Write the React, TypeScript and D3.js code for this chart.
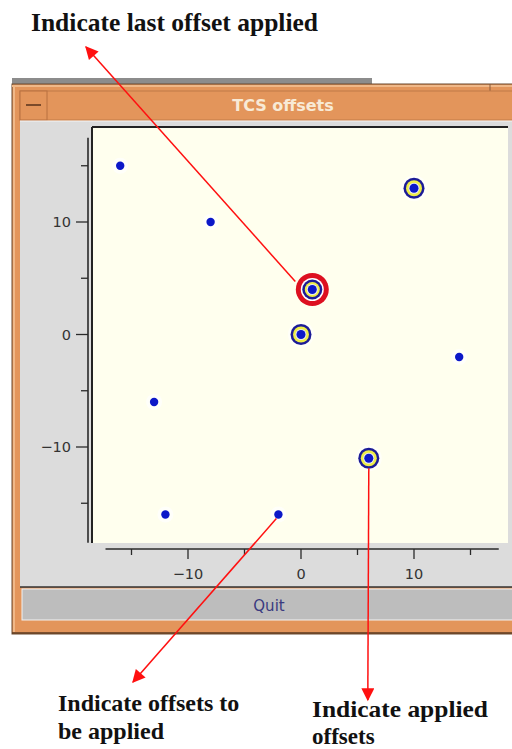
import * as d3 from "d3";

// offsets waiting to be applied
const pendingX = [-16, -8, 14, -13, -12, -2];
const pendingY = [15, 10, -2, -6, -16, -16];
// offsets already applied
const appliedX = [10, 0, 6];
const appliedY = [13, 0, -11];
// last offset applied
const lastX = [1];
const lastY = [4];

const majorTicks = [-10, 0, 10];
const minorTicks = [-15, -5, 5, 15];

const orange = "#e3955b";
const orangeLight = "#f0b888";
const panel = "#dcdcdc";
const dotBlue = "#0c18c8";
const navy = "#1c1c96";
const yellow = "#eeee48";
const red = "#ff1010";

export default function App() {
  const width = 512;
  const height = 749;

  const x = d3.scaleLinear().domain([-10, 10]).range([188, 414]);
  const y = d3.scaleLinear().domain([-10, 10]).range([447, 222]);

  const pending = pendingX.map((d, i) => [d, pendingY[i]]);
  const applied = appliedX.map((d, i) => [d, appliedY[i]]);
  const last = lastX.map((d, i) => [d, lastY[i]]);

  const axisColor = "#2a2a2a";
  const tickFont = "'DejaVu Sans', sans-serif";
  const noteFont = "'Liberation Serif', 'Times New Roman', serif";

  // arrow geometry: start near a data point, point to a label
  const lp = last[0];
  const topStart = [x(lp[0]) - 17, y(lp[1]) - 8];
  const pp = pending[5];
  const leftStart = [x(pp[0]) - 2, y(pp[1]) + 4];
  const ap = applied[2];
  const rightStart = [x(ap[0]), y(ap[1]) + 10];

  return (
    <svg width={width} height={height} style={{ position: "absolute", left: 0, top: 0, background: "#fff" }}>
      <defs>
        <marker id="headBig" viewBox="0 0 10 10" refX="9" refY="5" markerWidth="15" markerHeight="13" markerUnits="userSpaceOnUse" orient="auto">
          <path d="M0,0 L10,5 L0,10 z" fill={red} />
        </marker>
      </defs>

      {/* window frame */}
      <rect x={12} y={78} width={360} height={6} fill="#8c8c8c" />
      <rect x={12} y={84} width={510} height={550} fill={orange} stroke="#6a4a30" strokeWidth={1} />
      <line x1={12} y1={86} x2={512} y2={86} stroke={orangeLight} strokeWidth={2} />
      <line x1={14} y1={86} x2={14} y2={632} stroke={orangeLight} strokeWidth={2} />
      <line x1={490} y1={84} x2={490} y2={91} stroke="#8a5a3a" strokeWidth={1} />
      <rect x={20} y={91} width={500} height={29} fill={orange} stroke="#c07a48" strokeWidth={1} />
      <rect x={20} y={91} width={27} height={29} fill={orange} stroke="#b87040" strokeWidth={1} />
      <line x1={26} y1={105} x2={41} y2={105} stroke="#7a4a2a" strokeWidth={2} />
      <text x={283} y={111} textAnchor="middle" fill="#f8ead6" fontFamily={tickFont} fontWeight="bold" fontSize={16}>TCS offsets</text>

      {/* panel */}
      <rect x={20} y={121} width={500} height={466} fill={panel} />
      <line x1={20} y1={121} x2={520} y2={121} stroke="#f4f4f4" strokeWidth={1} />
      <rect x={92} y={127} width={416} height={416} fill="#ffffee" />
      <line x1={92} y1={127} x2={508} y2={127} stroke="#222" strokeWidth={2} />
      <line x1={92} y1={127} x2={92} y2={543} stroke="#222" strokeWidth={2} />

      {/* quit bar */}
      <line x1={20} y1={587} x2={520} y2={587} stroke="#333" strokeWidth={1.5} />
      <rect x={22} y={589} width={498} height={31} fill="#bdbdbd" stroke="#f2f2f2" strokeWidth={1} />
      <text x={269} y={611} textAnchor="middle" fill="#3a3a80" fontFamily={tickFont} fontSize={15}>Quit</text>
      <line x1={12} y1={633} x2={512} y2={633} stroke="#5a3a20" strokeWidth={1.5} />

      {/* y axis */}
      <line x1={88} x2={88} y1={y(17.5)} y2={y(-18.5)} stroke={axisColor} strokeWidth={1.6} />
      {majorTicks.map((t) => (
        <g key={"ym" + t}>
          <line x1={76} x2={88} y1={y(t)} y2={y(t)} stroke={axisColor} strokeWidth={1.3} />
          <text x={71} y={y(t)} dy="0.35em" textAnchor="end" fontFamily={tickFont} fontSize={14.5} fill="#333">{t < 0 ? "\u2212" + Math.abs(t) : t}</text>
        </g>
      ))}
      {minorTicks.map((t) => (
        <line key={"yn" + t} x1={81} x2={88} y1={y(t)} y2={y(t)} stroke={axisColor} strokeWidth={1.3} />
      ))}

      {/* x axis */}
      <line y1={549} y2={549} x1={x(-17.3)} x2={x(17.5)} stroke={axisColor} strokeWidth={1.6} />
      {majorTicks.map((t) => (
        <g key={"xm" + t}>
          <line y1={549} y2={559} x1={x(t)} x2={x(t)} stroke={axisColor} strokeWidth={1.3} />
          <text x={x(t)} y={574} dy="0.35em" textAnchor="middle" fontFamily={tickFont} fontSize={14.5} fill="#333">{t < 0 ? "\u2212" + Math.abs(t) : t}</text>
        </g>
      ))}
      {minorTicks.map((t) => (
        <line key={"xn" + t} y1={549} y2={555} x1={x(t)} x2={x(t)} stroke={axisColor} strokeWidth={1.3} />
      ))}

      {/* pending offsets */}
      {pending.map((d, i) => (
        <g key={"p" + i} transform={`translate(${x(d[0])},${y(d[1])})`}>
          <circle r={8} fill="#ffffff" opacity={0.7} />
          <circle r={4.2} fill={dotBlue} />
        </g>
      ))}

      {/* applied offsets */}
      {applied.map((d, i) => (
        <g key={"a" + i} transform={`translate(${x(d[0])},${y(d[1])})`}>
          <circle r={13} fill="#ffffff" opacity={0.6} />
          <circle r={10.5} fill={navy} />
          <circle r={8} fill={yellow} />
          <circle r={5.5} fill="#e8e8f8" />
          <circle r={4.5} fill={dotBlue} />
        </g>
      ))}

      {/* last applied */}
      {last.map((d, i) => (
        <g key={"l" + i} transform={`translate(${x(d[0])},${y(d[1])})`}>
          <circle r={16.5} fill="#dd1020" />
          <circle r={11.5} fill="#ffffff" />
          <circle r={10} fill={navy} />
          <circle r={7.5} fill={yellow} />
          <circle r={5.5} fill="#e8e8f8" />
          <circle r={4.5} fill={dotBlue} />
        </g>
      ))}

      {/* annotation arrows */}
      <line x1={topStart[0]} y1={topStart[1]} x2={86} y2={47} stroke={red} strokeWidth={1.5} markerEnd="url(#headBig)" />
      <line x1={leftStart[0]} y1={leftStart[1]} x2={133} y2={682} stroke={red} strokeWidth={1.5} markerEnd="url(#headBig)" />
      <line x1={rightStart[0]} y1={rightStart[1]} x2={rightStart[0] - 1} y2={700} stroke={red} strokeWidth={1.5} markerEnd="url(#headBig)" />

      {/* annotation labels */}
      <g fontFamily={noteFont} fontWeight="bold" fill="#111">
        <text x={31} y={31} fontSize={25} textLength={287} lengthAdjust="spacingAndGlyphs">Indicate last offset applied</text>
        <text x={58} y={711} fontSize={24}>Indicate offsets to</text>
        <text x={58} y={739} fontSize={24}>be applied</text>
        <text x={312} y={717} fontSize={23} textLength={176} lengthAdjust="spacingAndGlyphs">Indicate applied</text>
        <text x={312} y={744} fontSize={23}>offsets</text>
      </g>
    </svg>
  );
}
